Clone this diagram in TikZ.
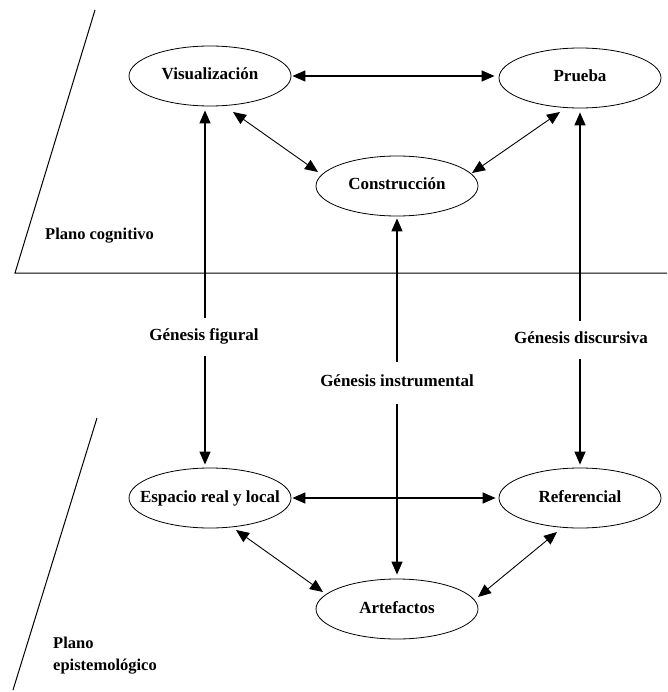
\documentclass[tikz,border=0pt]{standalone}
\usepackage{fontspec}
\setmainfont{Liberation Serif}
\usetikzlibrary{arrows.meta,shapes.geometric}
\tikzset{
  elli/.style={ellipse,draw,line width=0.8pt,minimum width=162pt,minimum height=60pt,inner sep=0pt,
    text height=11pt,text depth=3pt,font=\fontsize{17}{19}\selectfont\bfseries},
  arr/.style={line width=1.3pt,{Triangle[length=13pt,width=11pt]}-{Triangle[length=13pt,width=11pt]}},
  darr/.style={line width=0.9pt,{Triangle[length=13pt,width=11pt]}-{Triangle[length=13pt,width=11pt]}},
  genlab/.style={fill=white,inner xsep=3pt,text height=12pt,text depth=6pt,font=\fontsize{17}{19}\selectfont\bfseries},
  plano/.style={inner sep=0pt,align=left,font=\fontsize{16.5}{22}\selectfont\bfseries},
  sep/.style={line width=1pt}
}
\newcommand{\ztxt}[1]{\makebox[0pt]{#1}}
\begin{document}
\begin{tikzpicture}[x=1pt,y=-1pt]
\fill[white] (0,0) rectangle (667,692);
\useasboundingbox (0,0) rectangle (667,692);
% planes
\coordinate (s1) at (95,10);
\coordinate (s2) at (15,273);
\coordinate (s3) at (667,273);
\coordinate (s4) at (97,418);
\coordinate (s5) at (13,690);
\draw[sep] (s1) -- (s2) -- (s3);
\draw[sep] (s4) -- (s5);
\node[plano,anchor=base west] (pc) at (45,240) {Plano cognitivo};
\node[plano,anchor=west] (pe) at (53,656) {Plano\\epistemológico};
% ellipses
\node[elli] (vis) at (210,76) {\ztxt{Visualización}};
\node[elli] (pru) at (580,78) {\ztxt{Prueba}};
\node[elli] (con) at (397,186) {\ztxt{Construcción}};
\node[elli] (esp) at (210,498) {\ztxt{Espacio real y local}};
\node[elli] (ref) at (580,498) {\ztxt{Referencial}};
\node[elli] (art) at (397,609) {\ztxt{Artefactos}};
% horizontal arrows
\draw[arr,shorten <=1pt,shorten >=4pt] (vis.east) -- (vis.east -| pru.west);
\draw[arr,shorten <=1pt,shorten >=3pt] (esp.east) -- (esp.east -| ref.west);
% vertical arrows
\draw[arr,shorten <=4pt,shorten >=3pt] ([xshift=-5pt]vis.south) -- ([xshift=-5pt]esp.north);
\draw[arr,shorten <=2pt,shorten >=4pt] (con.south) -- (art.north);
\draw[arr,shorten <=4pt,shorten >=3pt] (pru.south) -- (ref.north);
% diagonal arrows
\draw[darr] ([shift={(23,36)}]vis.center) -- ([shift={(-79,-14)}]con.center);
\draw[darr] ([shift={(75,-13)}]con.center) -- ([shift={(-20,34)}]pru.center);
\draw[darr] ([shift={(26,32)}]esp.center) -- ([shift={(-74,-17)}]art.center);
\draw[darr] ([shift={(81,-12)}]art.center) -- ([shift={(-23,34)}]ref.center);
% labels
\node[genlab,inner ysep=10pt,anchor=base] (gf) at (204,340) {Génesis figural};
\node[genlab,inner ysep=12pt,anchor=base] (gi) at (397,386) {Génesis instrumental};
\node[genlab,inner ysep=10pt,anchor=base] (gd) at (581,343) {Génesis discursiva};
\end{tikzpicture}
\end{document}
